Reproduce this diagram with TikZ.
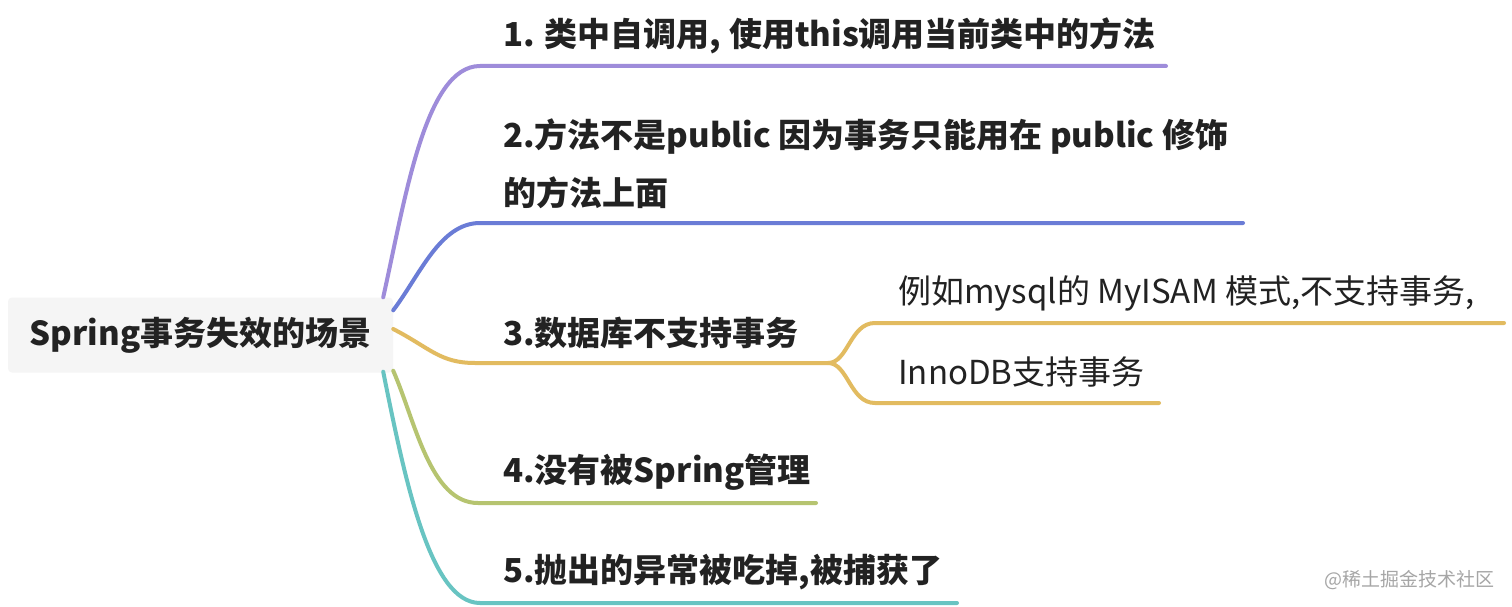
\documentclass[tikz,border=0pt]{standalone}
\usepackage{fontspec}
\setmainfont{Noto Sans CJK SC}
\definecolor{cpurp}{RGB}{158,140,218}
\definecolor{cblue}{RGB}{106,124,214}
\definecolor{cgold}{RGB}{226,187,96}
\definecolor{cgreen}{RGB}{182,196,112}
\definecolor{cteal}{RGB}{104,196,194}
\definecolor{ctext}{RGB}{34,34,34}
\definecolor{croot}{RGB}{245,245,245}
\begin{document}
\begin{tikzpicture}[x=1pt,y=-1pt,
  br/.style={line width=4pt, line cap=round},
  lab/.style={anchor=west, inner sep=0pt, text=ctext, font=\fontsize{33}{38}\selectfont\bfseries},
  sublab/.style={anchor=west, inner sep=0pt, text=ctext, font=\fontsize{33}{38}\selectfont},
  rootbox/.style={fill=croot, rounded corners=4pt, minimum width=385pt, minimum height=75pt, inner sep=0pt, text=ctext, font=\fontsize{33}{38}\selectfont\bfseries}
]
\useasboundingbox (0,0) rectangle (1512,607);
\fill[white] (0,0) rectangle (1512,607);

\node[rootbox] (root) at (200.5,335) {Spring事务失效的场景};

% line coordinates
\coordinate (b1s) at (480,66);  \coordinate (b1e) at (1166,66);
\coordinate (b2s) at (480,223); \coordinate (b2e) at (1243,223);
\coordinate (b3s) at (475,363); \coordinate (b3e) at (828,363);
\coordinate (b4s) at (478,503); \coordinate (b4e) at (816,503);
\coordinate (b5s) at (480,603); \coordinate (b5e) at (957,603);
\coordinate (s1s) at (875,323); \coordinate (s1e) at (1504,323);
\coordinate (s2s) at (875,403); \coordinate (s2e) at (1159,403);

\draw[br,cpurp] ([xshift=-10pt]root.north east) .. controls (405,200) and (425,66) .. (b1s) -- (b1e);
\draw[br,cblue] ([yshift=-13pt]root.north east) .. controls (420,275) and (440,223) .. (b2s) -- (b2e);
\draw[br,cgold] ([yshift=6pt]root.east) .. controls (430,348) and (440,363) .. (b3s) -- (b3e);
\draw[br,cgreen] ([yshift=2pt]root.south east) .. controls (415,420) and (430,503) .. (b4s) -- (b4e);
\draw[br,cteal] ([xshift=-10pt,yshift=1pt]root.south east) .. controls (405,480) and (430,603) .. (b5s) -- (b5e);
\draw[br,cgold] (b3e) .. controls (848,363) and (850,323) .. (s1s) -- (s1e);
\draw[br,cgold] (b3e) .. controls (848,363) and (850,403) .. (s2s) -- (s2e);

\node[lab] (t1) at (503,36) {1. 类中自调用, 使用this调用当前类中的方法};
\node[lab,align=left,font=\fontsize{33}{58}\selectfont\bfseries] (t2) at (503,164) {2.方法不是public 因为事务只能用在 public 修饰\\的方法上面};
\node[lab] (t3) at (503,333) {3.数据库不支持事务};
\node[lab] (t4) at (503,472) {4.没有被Spring管理};
\node[lab] (t5) at (503,572) {5.抛出的异常被吃掉,被捕获了};
\node[sublab] (s1) at (898,293) {例如mysql的 MyISAM 模式,不支持事务,};
\node[sublab] (s2) at (898,372) {InnoDB支持事务};
\node[anchor=east, inner sep=0pt, text=black!35, font=\fontsize{19}{23}\selectfont] (wm) at (1495,580) {@稀土掘金技术社区};
\end{tikzpicture}
\end{document}
